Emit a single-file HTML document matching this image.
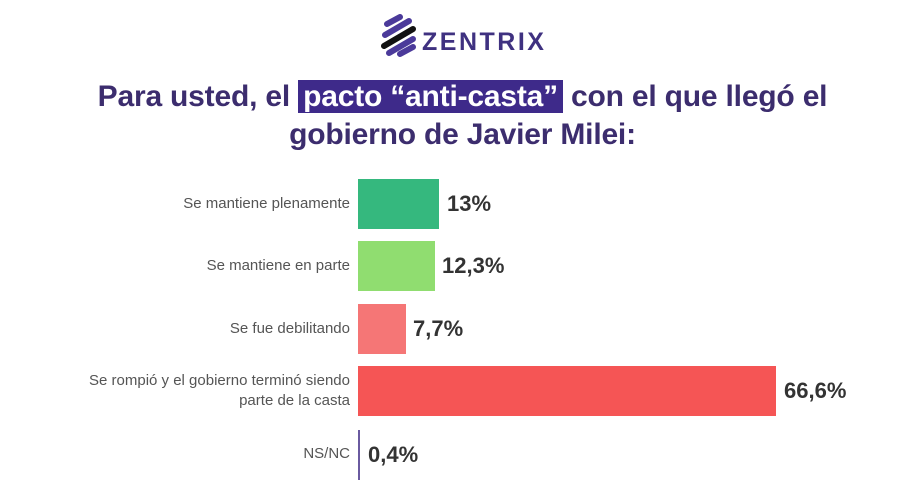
<!DOCTYPE html>
<html><head><meta charset="utf-8"><style>
body{margin:0;width:907px;height:503px;background:#fff;position:relative;overflow:hidden;font-family:"Liberation Sans",sans-serif}
.a{position:absolute}
.t{font-weight:bold;font-size:30px;color:#3c2d6e;text-align:center;width:907px;left:9px;letter-spacing:-0.2px}
.hl{background:#3e2a8a;color:#fff;padding:0 5px}
.l{right:557px;text-align:right;color:#555;font-size:15px;line-height:20px}
.v{font-weight:bold;font-size:22px;color:#333}
</style></head><body>
<svg class="a" style="left:379px;top:14px" width="40" height="44" viewBox="0 0 40 44">
<g stroke-linecap="round" stroke-width="6" fill="none">
<path d="M8 10 L21 3" stroke="#4b3a9a"/>
<path d="M6 21 L30 7" stroke="#4b3a9a"/>
<path d="M5 32 L34 15" stroke="#111"/>
<path d="M10 39 L34 25" stroke="#4b3a9a"/>
<path d="M21 40 L34 33" stroke="#4b3a9a"/>
</g></svg>
<div class="a" style="left:422px;top:28px;font-size:25px;font-weight:bold;color:#3f3180;letter-spacing:2.5px">ZENTRIX</div>
<div class="a t" style="top:78px;line-height:38px">Para usted, el <span class="hl">pacto “anti-casta”</span> con el que llegó el</div>
<div class="a t" style="top:116px;line-height:38px">gobierno de Javier Milei:</div>

<div class="a l" style="top:194px">Se mantiene plenamente</div>
<div class="a" style="left:358px;top:179px;width:81px;height:50px;background:#35b87e"></div>
<div class="a v" style="left:447px;top:191px">13%</div>

<div class="a l" style="top:256px">Se mantiene en parte</div>
<div class="a" style="left:358px;top:241px;width:77px;height:50px;background:#90dd70"></div>
<div class="a v" style="left:442px;top:253px">12,3%</div>

<div class="a l" style="top:319px">Se fue debilitando</div>
<div class="a" style="left:358px;top:304px;width:48px;height:50px;background:#f57676"></div>
<div class="a v" style="left:413px;top:316px">7,7%</div>

<div class="a l" style="top:371px">Se rompió y el gobierno terminó siendo<br>parte de la casta</div>
<div class="a" style="left:358px;top:366px;width:418px;height:50px;background:#f55555"></div>
<div class="a v" style="left:784px;top:378px">66,6%</div>

<div class="a l" style="top:444px">NS/NC</div>
<div class="a" style="left:358px;top:430px;width:2px;height:50px;background:#6a5aa0"></div>
<div class="a v" style="left:368px;top:442px">0,4%</div>
</body></html>
